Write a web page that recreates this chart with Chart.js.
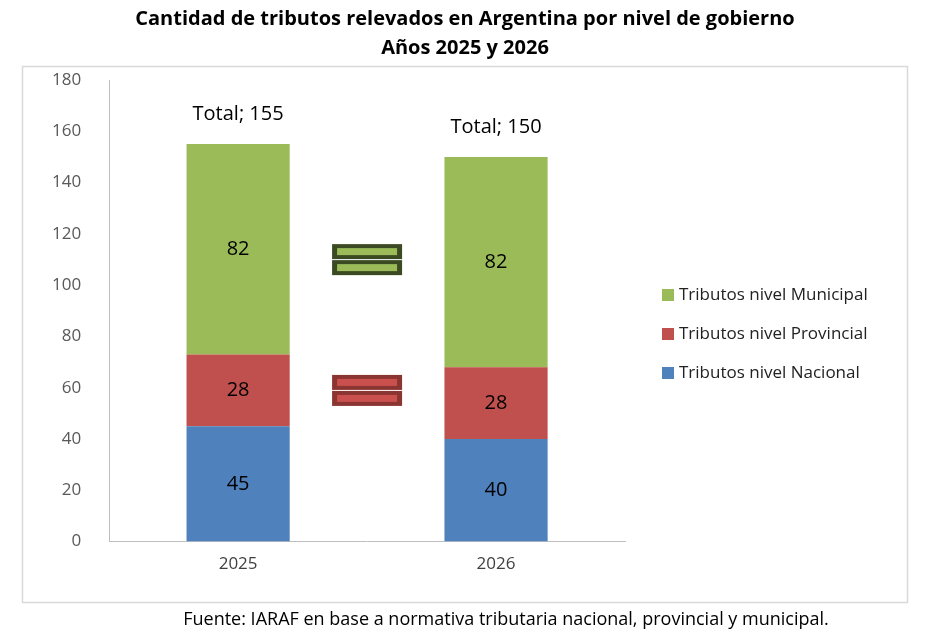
<!DOCTYPE html>
<html><head><meta charset="utf-8">
<script src="https://cdn.jsdelivr.net/npm/chart.js@4"></script>
<style>html,body{margin:0;background:#fff}#c{display:block}</style>
</head><body>
<div style="width:930px;height:638px"><canvas id="c"></canvas></div>
<script>
const years = ['2025', '2026']
const nacional = [45, 40]
const provincial = [28, 28]
const municipal = [82, 82]
const totals = [155, 150]
const titleLines = ['Cantidad de tributos relevados en Argentina por nivel de gobierno', 'Años 2025 y 2026']
const source = 'Fuente: IARAF en base a normativa tributaria nacional, provincial y municipal.'

const FONT = '"Open Sans", "Liberation Sans", sans-serif'
const GREEN = '#9bbb59', RED = '#c0504d', BLUE = '#4f81bd'

// frame, title, labels, equals signs, legend, footnote
const decor = {
  id: 'decor',
  beforeDraw(chart) {
    const c = chart.ctx
    c.save()
    c.strokeStyle = '#d9d9d9'; c.lineWidth = 1.5
    c.strokeRect(22.5, 66.5, 885, 536)
    c.restore()
  },
  afterDatasetsDraw(chart) {
    const c = chart.ctx, x = chart.scales.x, y = chart.scales.y
    c.save()
    c.fillStyle = '#000'; c.textAlign = 'center'; c.textBaseline = 'middle'
    c.font = 'bold 20px ' + FONT
    c.fillText(titleLines[0], 465, 19)
    c.fillText(titleLines[1], 465, 48)
    c.font = '20px ' + FONT
    chart.data.datasets.forEach((ds, di) => {
      const meta = chart.getDatasetMeta(di)
      meta.data.forEach((bar, i) => {
        c.fillText(String(ds.data[i]), bar.x, (bar.y + bar.base) / 2)
      })
    })
    years.forEach((_, i) => {
      c.fillText('Total; ' + totals[i], x.getPixelForValue(i), y.getPixelForValue(totals[i]) - 30)
    })
    // equals signs between the bars
    const mx = (x.getPixelForValue(0) + x.getPixelForValue(1)) / 2
    const drawEq = (v, fill, edge) => {
      const top = y.getPixelForValue(v)
      for (let k = 0; k < 2; k++) {
        const yy = top + k * 16
        c.fillStyle = edge; c.fillRect(mx - 35, yy, 70, 15)
        c.fillStyle = fill; c.fillRect(mx - 30, yy + 4, 60, 7)
      }
    }
    drawEq(116, '#9bbb59', '#3b4a22')
    drawEq(65, '#c9504d', '#8b3532')
    // legend
    c.textAlign = 'left'; c.font = '17px ' + FONT; c.fillStyle = '#222'
    const items = [['Tributos nivel Municipal', GREEN], ['Tributos nivel Provincial', RED], ['Tributos nivel Nacional', BLUE]]
    items.forEach(([t, col], i) => {
      const yy = 295 + i * 39
      c.fillStyle = col; c.fillRect(662, yy - 6, 12, 12)
      c.fillStyle = '#222'; c.fillText(t, 679, yy)
    })
    c.textAlign = 'center'; c.font = '18px ' + FONT; c.fillStyle = '#000'
    c.fillText(source, 506, 620)
    c.restore()
  }
}

new Chart(document.getElementById('c'), {
  type: 'bar',
  data: {
    labels: years,
    datasets: [
      { label: 'Tributos nivel Nacional', data: nacional, backgroundColor: BLUE },
      { label: 'Tributos nivel Provincial', data: provincial, backgroundColor: RED },
      { label: 'Tributos nivel Municipal', data: municipal, backgroundColor: GREEN },
    ],
  },
  options: {
    responsive: true,
    maintainAspectRatio: false,
    animation: false,
    layout: { padding: { left: 30, right: 305, top: 80, bottom: 52 } },
    plugins: { legend: { display: false }, tooltip: { enabled: false } },
    datasets: { bar: { barPercentage: 0.4, categoryPercentage: 1 } },
    scales: {
      x: {
        stacked: true,
        grid: { display: false, drawTicks: false },
        border: { color: '#bfbfbf' },
        ticks: { color: '#404040', padding: 12, font: { family: FONT, size: 17 } },
      },
      y: {
        stacked: true, min: 0, max: 180,
        grid: { display: false, drawTicks: true, tickLength: 6, tickColor: '#bfbfbf' },
        border: { color: '#bfbfbf' },
        ticks: { stepSize: 20, color: '#595959', padding: 22, font: { family: FONT, size: 17 } },
      },
    },
  },
  plugins: [decor],
})
</script>
</body></html>
